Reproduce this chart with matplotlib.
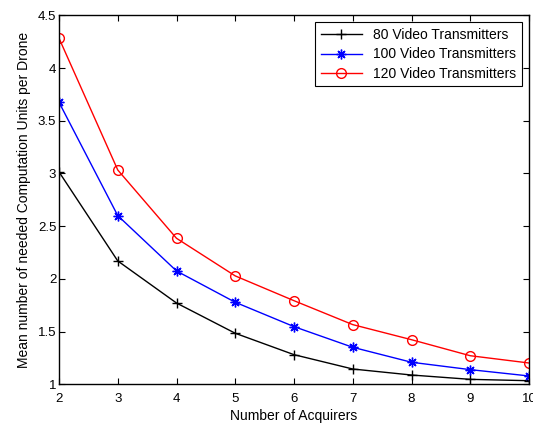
import matplotlib
matplotlib.use("Agg")
import matplotlib.pyplot as plt

x = [2, 3, 4, 5, 6, 7, 8, 9, 10]
y80 = [3.015, 2.17, 1.771, 1.484, 1.281, 1.145, 1.088, 1.047, 1.034]
y100 = [3.675, 2.60, 2.075, 1.778, 1.547, 1.351, 1.209, 1.139, 1.079]
y120 = [4.283, 3.033, 2.385, 2.028, 1.793, 1.566, 1.423, 1.271, 1.202]
labels = ["80 Video Transmitters", "100 Video Transmitters", "120 Video Transmitters"]

plt.rcParams['font.family'] = ['Liberation Sans', 'DejaVu Sans']
fig = plt.figure(figsize=(5.33, 4.23), dpi=100)
ax = fig.add_axes([0.1107, 0.0915, 0.8818, 0.8723])
ax.plot(x, y80, color='black', marker='+', markersize=7, linewidth=1, label=labels[0])
ax.plot(x, y100, color='blue', marker=(8, 2, 0), markersize=7, markeredgewidth=1, linewidth=1, label=labels[1])
ax.plot(x, y120, color='red', marker='o', markersize=7, markerfacecolor='none', linewidth=1, label=labels[2])
ax.set_xlim(2, 10)
ax.set_ylim(1, 4.5)
ax.set_xticks(range(2, 11))
ax.set_yticks([1, 1.5, 2, 2.5, 3, 3.5, 4, 4.5])
ax.set_yticklabels(['1', '1.5', '2', '2.5', '3', '3.5', '4', '4.5'])
ax.tick_params(direction='in', top=True, right=True, labelsize=9.5, length=4)
ax.tick_params(axis='x', pad=6)
ax.tick_params(axis='y', pad=2)
for s in ax.spines.values():
    s.set_linewidth(1)
ax.set_xlabel('Number of Acquirers', fontsize=10, labelpad=3)
ax.set_ylabel('Mean number of needed Computation Units per Drone', fontsize=10, labelpad=5)
leg = ax.legend(loc='upper right', fontsize=10, fancybox=False, edgecolor='black', framealpha=1,
                borderaxespad=0.5, handlelength=3, labelspacing=0.4)
leg.get_frame().set_linewidth(0.8)
fig.savefig('out.png', dpi=100)
